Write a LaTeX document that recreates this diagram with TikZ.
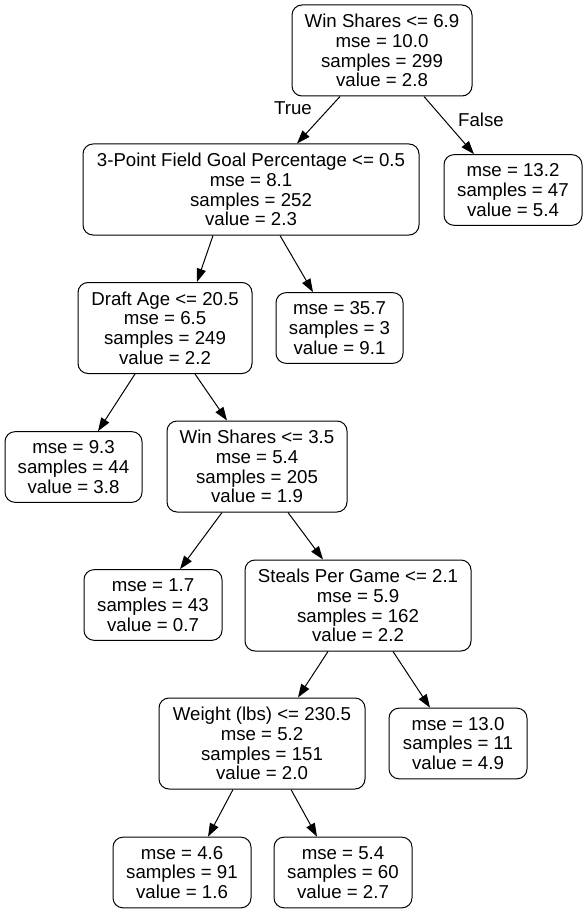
\documentclass[tikz,border=0pt]{standalone}
\usepackage{fontspec}
\setmainfont{Liberation Sans}
\usetikzlibrary{arrows.meta,calc}
\begin{document}
\begin{tikzpicture}[x=0.75pt,y=-0.75pt,
  tn/.style={draw, line width=0.75pt, rounded corners=7.5pt, align=center, inner sep=0pt,
    font=\fontsize{14pt}{14.8pt}\selectfont},
  big/.style={tn, minimum height=68.25pt},
  small/.style={tn, minimum height=53pt},
  edge/.style={-{Triangle[length=10pt,width=7pt]}, line width=0.75pt},
  lbl/.style={font=\fontsize{14pt}{16pt}\selectfont, inner sep=0pt}]
\useasboundingbox (0,0) rectangle (587,913);
\node[big, minimum width=135pt] (root) at (382,50.5) {Win Shares <= 6.9\\mse = 10.0\\samples = 299\\value = 2.8};
\node[big, minimum width=252pt] (n1) at (251,189.5) {3-Point Field Goal Percentage <= 0.5\\mse = 8.1\\samples = 252\\value = 2.3};
\node[small, minimum width=103.5pt] (n2) at (513,190) {mse = 13.2\\samples = 47\\value = 5.4};
\node[big, minimum width=130.5pt] (n3) at (165,328) {Draft Age <= 20.5\\mse = 6.5\\samples = 249\\value = 2.2};
\node[small, minimum width=95.25pt] (n4) at (339.5,328) {mse = 35.7\\samples = 3\\value = 9.1};
\node[small, minimum width=102.75pt] (n5) at (73.5,467) {mse = 9.3\\samples = 44\\value = 3.8};
\node[big, minimum width=135pt] (n6) at (257,466.5) {Win Shares <= 3.5\\mse = 5.4\\samples = 205\\value = 1.9};
\node[small, minimum width=103.5pt] (n7) at (153,605) {mse = 1.7\\samples = 43\\value = 0.7};
\node[big, minimum width=169.5pt] (n8) at (358,605.5) {Steals Per Game <= 2.1\\mse = 5.9\\samples = 162\\value = 2.2};
\node[big, minimum width=154.5pt] (n9) at (262,743.5) {Weight (lbs) <= 230.5\\mse = 5.2\\samples = 151\\value = 2.0};
\node[small, minimum width=103.5pt] (n10) at (458,743.5) {mse = 13.0\\samples = 11\\value = 4.9};
\node[small, minimum width=103.5pt] (n11) at (182,872.5) {mse = 4.6\\samples = 91\\value = 1.6};
\node[small, minimum width=103.5pt] (n12) at (343,872.5) {mse = 5.4\\samples = 60\\value = 2.7};
\node[lbl] (tlab) at (293,108) {True};
\node[lbl] (flab) at (481,120) {False};
\draw[edge] ($(root.south)+(-42,0)$) -- ($(n1.north)+(46,0)$);
\draw[edge] ($(root.south)+(42,0)$) -- ($(n2.north)+(-39,0)$);
\draw[edge] ($(n1.south)+(-38,0)$) -- ($(n3.north)+(32,0)$);
\draw[edge] ($(n1.south)+(29,0)$) -- ($(n4.north)+(-26.5,0)$);
\draw[edge] ($(n3.south)+(-30,0)$) -- ($(n5.north)+(24.5,0)$);
\draw[edge] ($(n3.south)+(30,0)$) -- ($(n6.north)+(-30,0)$);
\draw[edge] ($(n6.south)+(-35,0)$) -- ($(n7.north)+(27,0)$);
\draw[edge] ($(n6.south)+(31,0)$) -- ($(n8.north)+(-35,0)$);
\draw[edge] ($(n8.south)+(-30,0)$) -- ($(n9.north)+(36,0)$);
\draw[edge] ($(n8.south)+(35,0)$) -- ($(n10.north)+(-28,0)$);
\draw[edge] ($(n9.south)+(-29,0)$) -- ($(n11.north)+(26,0)$);
\draw[edge] ($(n9.south)+(29,0)$) -- ($(n12.north)+(-26,0)$);
\end{tikzpicture}
\end{document}
